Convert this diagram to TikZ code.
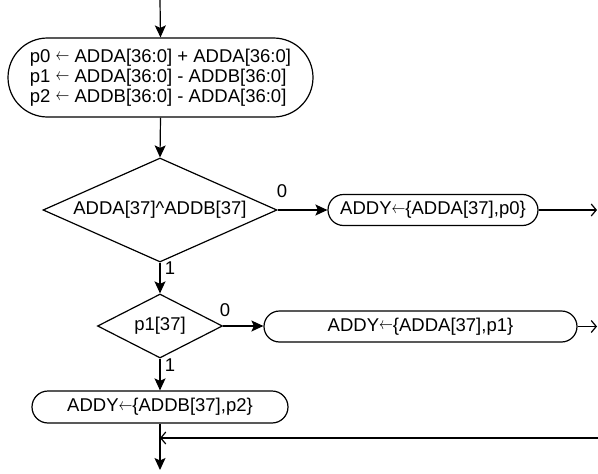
\documentclass[tikz,border=0pt]{standalone}
\usepackage{graphicx}
\usepackage{fontspec}
\setmainfont{Liberation Sans}
\usetikzlibrary{shapes.geometric,shapes.misc,arrows.meta}

% thin assignment arrow, lifted to mid cap height
\newcommand\larr{\raisebox{1.5pt}{\scalebox{0.8}[1]{$\leftarrow$}}}
% diagram font with fixed line pitch
\newcommand\diagfont{\fontsize{18.5}{20}\selectfont\lineskiplimit=-20pt\relax}

\begin{document}
\begin{tikzpicture}[x=1pt,y=-1pt,
  font=\diagfont,
  every path/.style={line width=1.2pt},
  pill/.style={rounded rectangle, draw, inner sep=0pt},
  decision/.style={diamond, draw, inner sep=0pt},
  flow/.style={-{Stealth[length=12pt,width=11pt,inset=2.5pt]}},
  exit/.style={-{Straight Barb[length=5pt,width=12pt]}},
  lbl/.style={inner sep=0pt}]
\useasboundingbox (0,0) rectangle (598,474);

% process boxes
\node[pill, minimum width=305pt, minimum height=79pt, align=left] (sub) at (160.5,77.5)
  {p0 \larr{} ADDA[36:0] + ADDA[36:0]\\ p1 \larr{} ADDA[36:0] - ADDB[36:0]\\ p2 \larr{} ADDB[36:0] - ADDA[36:0]};
\node[decision, aspect=2.2, minimum width=234pt, minimum height=104pt] (d1) at (160,210) {ADDA[37]\^{}ADDB[37]};
\node[pill, minimum width=210pt, minimum height=31pt] (r0) at (433,210) {ADDY\larr\{ADDA[37],p0\}};
\node[decision, aspect=1.9, minimum width=125pt, minimum height=64pt] (d2) at (160,326) {p1[37]};
\node[pill, minimum width=313pt, minimum height=31pt] (r1) at (420.5,326.5) {ADDY\larr\{ADDA[37],p1\}};
\node[pill, minimum width=256pt, minimum height=32pt] (r2) at (160,407) {ADDY\larr\{ADDB[37],p2\}};

% branch labels
\node[lbl] (l0a) at (282,191) {0};
\node[lbl] (l1a) at (170,268) {1};
\node[lbl] (l0b) at (225,310) {0};
\node[lbl] (l1b) at (170,365) {1};

% free ends
\coordinate (in) at (160,0);
\coordinate (out) at (160,470);
\coordinate (x0) at (597,210);
\coordinate (x1) at (597,326.5);
\coordinate (back) at (598,438);
\coordinate (merge) at (160,438);

% connectors
\draw[flow] (in) -- (sub.north);
\draw[flow] (sub.south) -- (d1.north);
\draw[flow] (d1.east) -- (r0.west);
\draw[exit] (r0.east) -- (x0);
\draw[flow] (d1.south) -- (d2.north);
\draw[flow] (d2.east) -- (d2.east -| r1.west);
\draw[exit] (r1.east) -- (x1);
\draw[flow] (d2.south) -- (r2.north);
\draw[flow] (r2.south) -- (out);
\draw[exit] (back) -- (merge);
\end{tikzpicture}
\end{document}
